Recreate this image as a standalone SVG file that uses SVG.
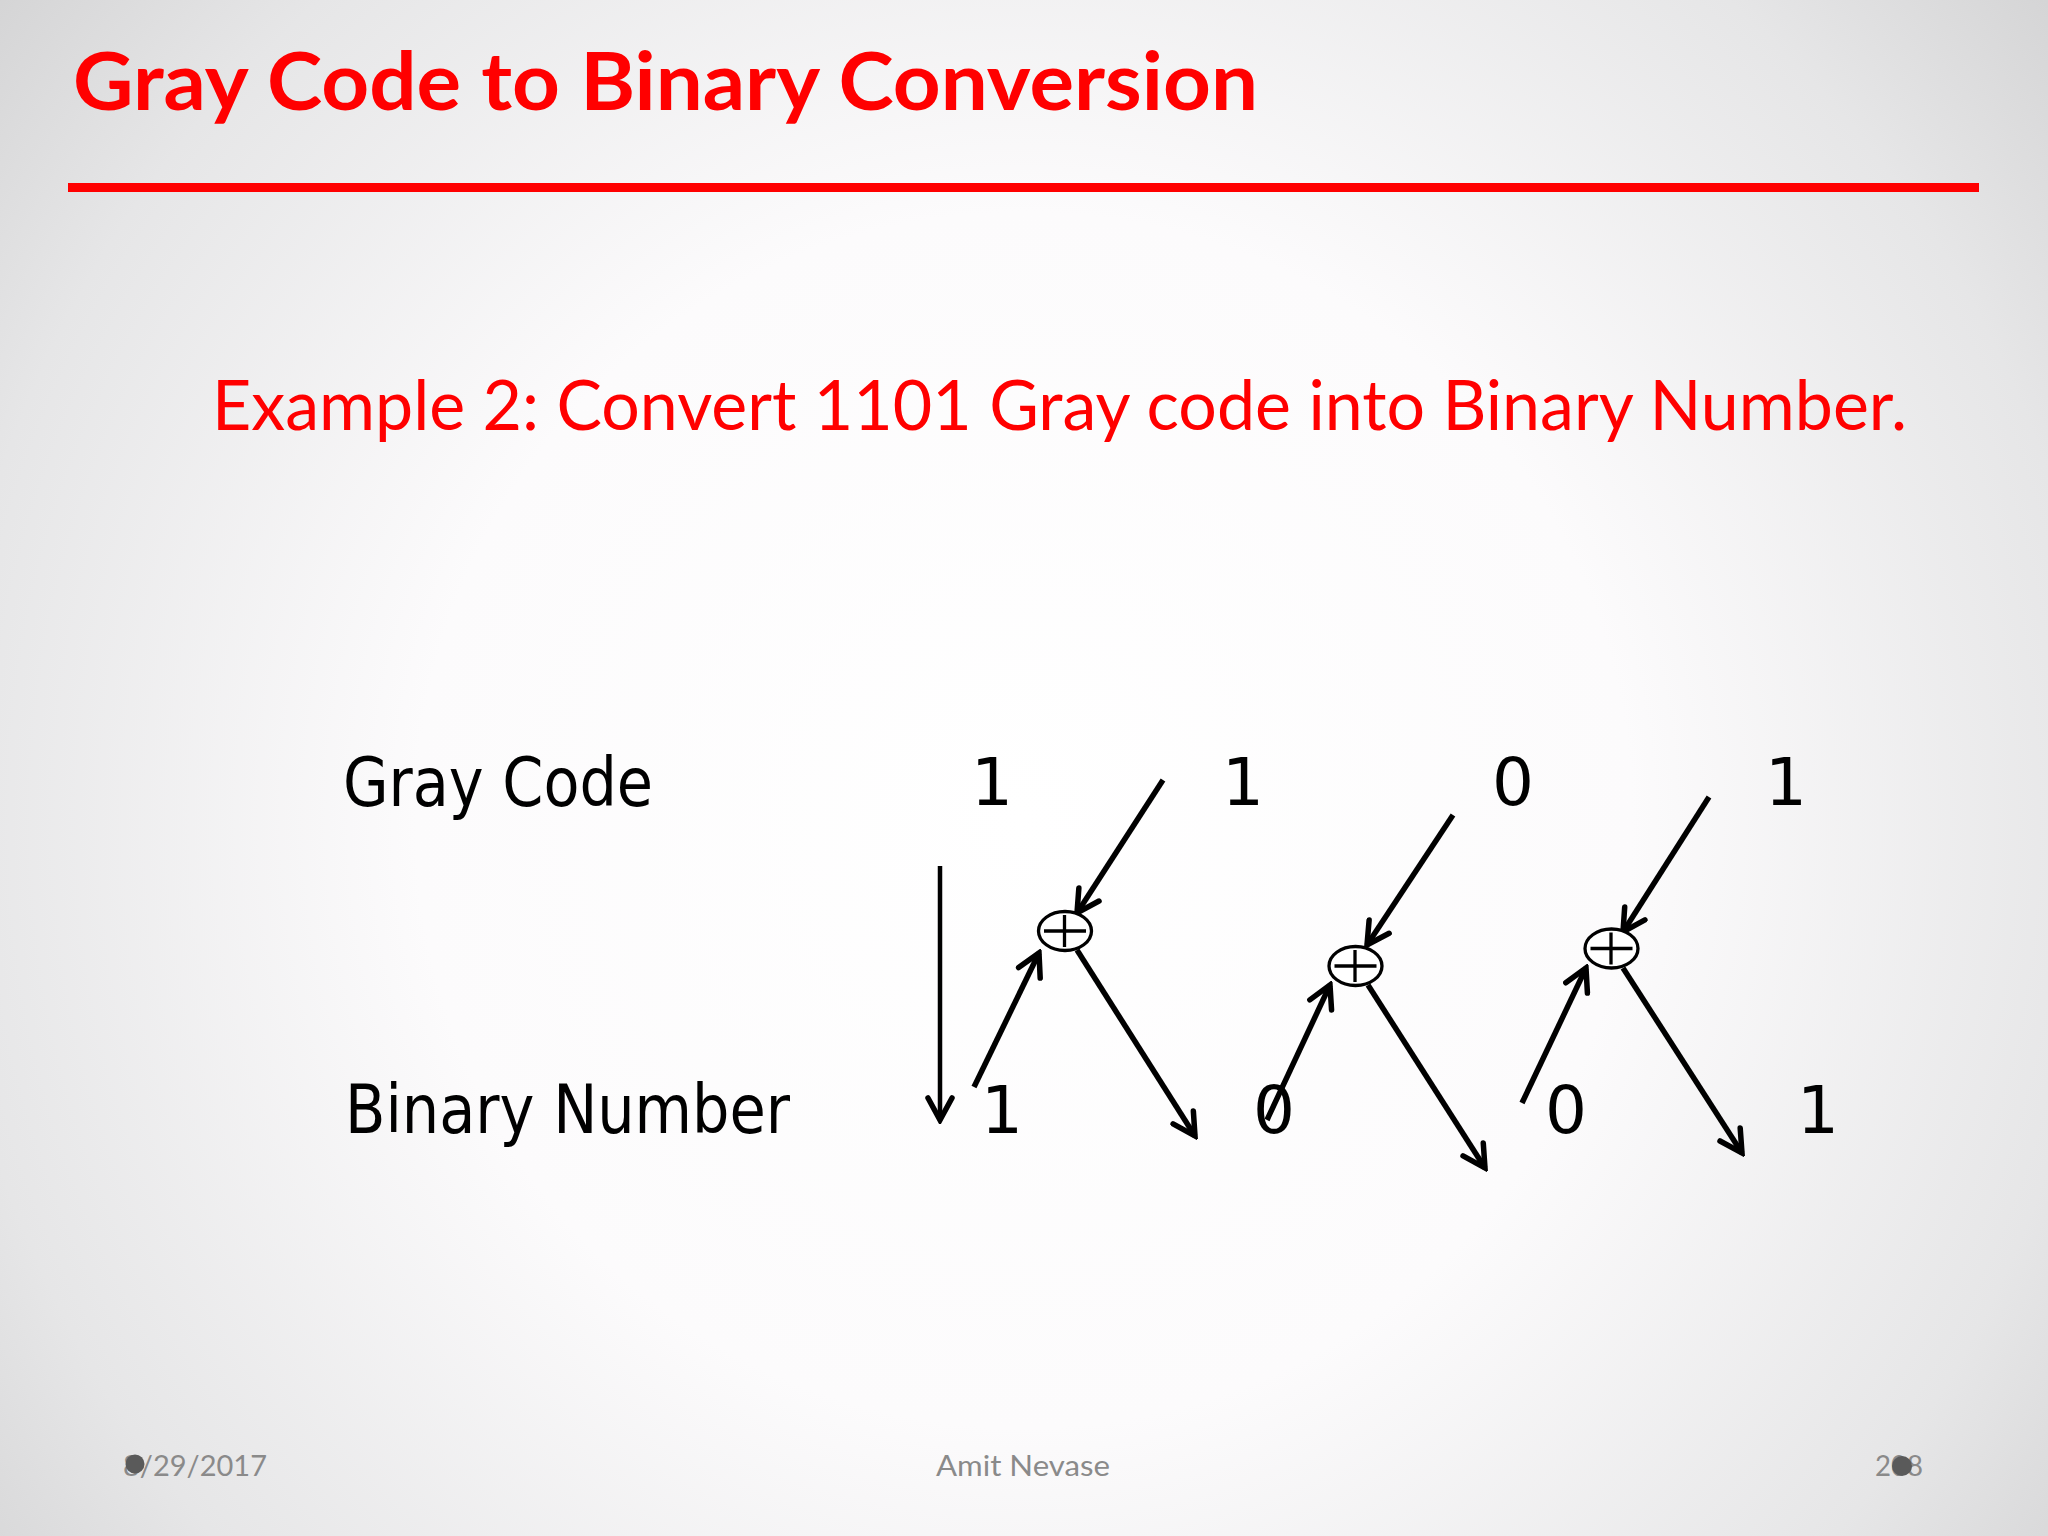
<svg xmlns="http://www.w3.org/2000/svg" width="2048" height="1536" viewBox="0 0 2048 1536">
<defs>
<radialGradient id="bg" cx="1024" cy="820" r="1350" gradientUnits="userSpaceOnUse">
<stop offset="0" stop-color="#ffffff"/>
<stop offset="0.45" stop-color="#fcfbfc"/>
<stop offset="0.8" stop-color="#e6e6e7"/>
<stop offset="1" stop-color="#d2d2d3"/>
</radialGradient>
<marker id="ah" viewBox="-26 -15 30 30" refX="0" refY="0" markerWidth="30" markerHeight="30" markerUnits="userSpaceOnUse" orient="auto">
<path d="M-22,-12 L0,0 L-22,12" fill="none" stroke="#000" stroke-width="5.5" stroke-linejoin="miter" stroke-linecap="round"/>
</marker>
<style>
.title{font-family:Lato,"Open Sans","Liberation Sans",sans-serif;font-weight:700;font-size:80px;fill:#ff0000}
.sub{font-family:Lato,"Open Sans","Liberation Sans",sans-serif;font-size:69px;fill:#ff0000}
.lbl{font-family:"DejaVu Sans Condensed","DejaVu Sans",sans-serif;font-size:67px;fill:#000}
.dig{font-family:"DejaVu Sans",sans-serif;font-size:66px;fill:#000;text-anchor:middle}
.foot{font-family:Lato,"Open Sans","Liberation Sans",sans-serif;font-size:29px;fill:#8a8a8a}
.ln{stroke:#000;stroke-width:5.5;fill:none;marker-end:url(#ah)}
.xor ellipse{fill:#fff;stroke:#000;stroke-width:3.3}
.xor line{stroke:#000;stroke-width:3.3}
</style>
</defs>
<rect x="0" y="0" width="2048" height="1536" fill="url(#bg)"/>

<g id="header">
<text class="title" x="73" y="110" textLength="1185" lengthAdjust="spacingAndGlyphs">Gray Code to Binary Conversion</text>
<rect x="68" y="183" width="1911" height="9" fill="#ff0000"/>
<text class="sub" x="212" y="430" textLength="1695" lengthAdjust="spacingAndGlyphs">Example 2: Convert 1101 Gray code into Binary Number.</text>
</g>

<g id="labels">
<text class="lbl" x="343" y="806" textLength="310" lengthAdjust="spacingAndGlyphs">Gray Code</text>
<text class="lbl" x="345" y="1133" textLength="445" lengthAdjust="spacingAndGlyphs">Binary Number</text>
</g>

<g id="gray-digits">
<text class="dig" x="992" y="805">1</text>
<text class="dig" x="1243" y="805">1</text>
<text class="dig" x="1513" y="805">0</text>
<text class="dig" x="1786" y="805">1</text>
</g>

<g id="binary-digits">
<text class="dig" x="1002" y="1133">1</text>
<text class="dig" x="1274" y="1133">0</text>
<text class="dig" x="1566" y="1133">0</text>
<text class="dig" x="1818" y="1133">1</text>
</g>

<g id="connectors">
<line class="ln" style="stroke-width:4.5" x1="940" y1="866" x2="940" y2="1120"/>
<line class="ln" x1="1163" y1="780" x2="1077" y2="913"/>
<line class="ln" x1="974" y1="1087" x2="1039" y2="953"/>
<line class="ln" x1="1077" y1="950" x2="1195" y2="1136"/>
<line class="ln" x1="1453" y1="815" x2="1367" y2="945"/>
<line class="ln" x1="1267" y1="1120" x2="1330" y2="985"/>
<line class="ln" x1="1368" y1="985" x2="1485" y2="1168"/>
<line class="ln" x1="1709" y1="797" x2="1623" y2="932"/>
<line class="ln" x1="1522" y1="1103" x2="1586" y2="968"/>
<line class="ln" x1="1623" y1="968" x2="1742" y2="1153"/>
</g>

<g id="xor1" class="xor">
<ellipse cx="1065" cy="931" rx="26.5" ry="19.5"/>
<line x1="1044" y1="931" x2="1086" y2="931"/>
<line x1="1064.5" y1="915" x2="1064.5" y2="947"/>
</g>
<g id="xor2" class="xor">
<ellipse cx="1355.5" cy="966" rx="26.5" ry="19.5"/>
<line x1="1334.5" y1="966" x2="1376.5" y2="966"/>
<line x1="1355" y1="950" x2="1355" y2="982"/>
</g>
<g id="xor3" class="xor">
<ellipse cx="1611.5" cy="948.5" rx="26.5" ry="19.5"/>
<line x1="1590.5" y1="948.5" x2="1632.5" y2="948.5"/>
<line x1="1611" y1="932.5" x2="1611" y2="964.5"/>
</g>

<g id="footer">
<text class="foot" x="123" y="1476" textLength="144" lengthAdjust="spacingAndGlyphs">8/29/2017</text>
<circle cx="135" cy="1464" r="9.5" fill="#5a5a5a"/>
<text class="foot" x="1023" y="1476" text-anchor="middle" textLength="174" lengthAdjust="spacingAndGlyphs">Amit Nevase</text>
<text class="foot" x="1875" y="1476" textLength="48" lengthAdjust="spacingAndGlyphs">208</text>
<circle cx="1902" cy="1466" r="10" fill="#5a5a5a"/>
</g>
</svg>
